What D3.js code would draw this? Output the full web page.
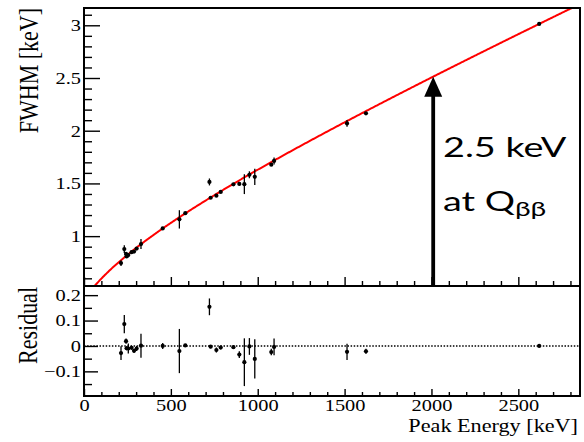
<!DOCTYPE html>
<html>
<head>
<meta charset="utf-8">
<script src="https://cdn.jsdelivr.net/npm/d3@7"></script>
<style>
  body { margin: 0; background: #fff; }
  svg { display: block; }
  .tick text { font-family: "Liberation Serif", "Times New Roman", serif; font-size: 17px; fill: #000; }
  .tick line { stroke: #000; stroke-width: 1.4; }
</style>
</head>
<body>
<div id="chart"></div>
<script>
// peak energies of the calibration lines [keV]
const energy = [213, 232, 242, 245, 255, 274, 288, 303, 328, 453, 549, 583, 722, 729,
  762, 787, 860, 894, 923, 952, 983, 1078, 1094, 1514, 1623, 2620];
// measured FWHM [keV]
const fwhm = [0.744, 0.877, 0.831, 0.807, 0.820, 0.848, 0.854, 0.882, 0.925, 1.073, 1.159,
  1.218, 1.514, 1.364, 1.384, 1.419, 1.491, 1.495, 1.493, 1.582, 1.563, 1.678, 1.713,
  2.069, 2.165, 3.013];
// FWHM uncertainty [keV]
const fwhmErr = [0.027, 0.036, 0.010, 0.008, 0.020, 0.008, 0.008, 0.010, 0.047, 0.012,
  0.087, 0.006, 0.033, 0.006, 0.010, 0.008, 0.006, 0.013, 0.094, 0.033, 0.077, 0.013,
  0.033, 0.032, 0.010, 0.005];
// data - fit [keV]
const residual = [-0.028, 0.086, 0.019, -0.009, -0.010, -0.007, -0.019, -0.010, 0.001,
  0.000, -0.020, 0.002, 0.154, -0.003, -0.016, -0.006, -0.005, -0.034, -0.064, -0.002,
  -0.051, -0.024, -0.004, -0.023, -0.021, 0.000];

// tick values
const xMajor = [0, 500, 1000, 1500, 2000, 2500];
const yMajor = [1, 1.5, 2, 2.5, 3];
const resMajor = [0.2, 0.1, 0, -0.1];

// fit: FWHM = sqrt(a + b E + c E^2)
const fitA = 0.157, fitB = 0.00194, fitC = 5.59e-7;
const fitFn = e => Math.sqrt(fitA + fitB * e + fitC * e * e);

// arrow position and label
const arrowE = 2010;
const labelLine1 = "2.5 keV";

const W = 584, H = 442;
const padL = 84, padR = 580, padT = 8, padMid = 286, padB = 396;
const sx = 1.2; // text in the picture is stretched sideways

const svg = d3.select('#chart').append('svg')
  .attr('width', W).attr('height', H);

const x = d3.scaleLinear().domain([0, 2855]).range([padL, padR]);
const y = d3.scaleLinear().domain([0.527, 3.164]).range([padMid, padT]);
const yr = d3.scaleLinear().domain([-0.197, 0.236]).range([padB, padMid]);

// stretch tick labels like the picture
function stretchLabels(g, xPos) {
  g.selectAll('text').each(function() {
    const t = d3.select(this);
    t.attr('x', xPos / sx).attr('transform', `scale(${sx},1)`);
  });
}

function minorRange(a, b, step) {
  return d3.range(Math.round(a / step), Math.round(b / step) + 1).map(k => +(k * step).toFixed(4));
}

// ---- main panel ticks
const gy = svg.append('g').attr('transform', `translate(${padL},0)`)
  .call(d3.axisLeft(y).tickValues(yMajor).tickSize(-16).tickPadding(3).tickFormat(d3.format('')));
gy.select('.domain').remove();
stretchLabels(gy, -3);
svg.append('g').attr('transform', `translate(${padL},0)`)
  .call(d3.axisLeft(y).tickValues(minorRange(0.6, 3.1, 0.1).filter(v => !yMajor.includes(v))).tickSize(-8).tickFormat(''))
  .select('.domain').remove();

svg.append('g').attr('transform', `translate(0,${padMid})`)
  .call(d3.axisBottom(x).tickValues(xMajor).tickSize(-9).tickFormat(''))
  .select('.domain').remove();
svg.append('g').attr('transform', `translate(0,${padMid})`)
  .call(d3.axisBottom(x).tickValues(minorRange(100, 2800, 100).filter(v => v % 500)).tickSize(-5).tickFormat(''))
  .select('.domain').remove();

// ---- residual panel ticks
const gr = svg.append('g').attr('transform', `translate(${padL},0)`)
  .call(d3.axisLeft(yr).tickValues(resMajor).tickSize(-14).tickPadding(3).tickFormat(d3.format('')));
gr.select('.domain').remove();
stretchLabels(gr, -3);
svg.append('g').attr('transform', `translate(${padL},0)`)
  .call(d3.axisLeft(yr).tickValues([0.15, 0.05, -0.05, -0.15]).tickSize(-8).tickFormat(''))
  .select('.domain').remove();

const gx = svg.append('g').attr('transform', `translate(0,${padB})`)
  .call(d3.axisBottom(x).tickValues(xMajor).tickSize(-7).tickPadding(3).tickFormat(d3.format('')));
gx.select('.domain').remove();
stretchLabels(gx, 0);
svg.append('g').attr('transform', `translate(0,${padB})`)
  .call(d3.axisBottom(x).tickValues(minorRange(100, 2800, 100).filter(v => v % 500)).tickSize(-4).tickFormat(''))
  .select('.domain').remove();

// clip for the fit curve
svg.append('clipPath').attr('id', 'mainClip')
  .append('rect').attr('x', padL).attr('y', padT).attr('width', padR - padL).attr('height', padMid - padT);

// fit curve
const curveE = d3.range(0, 2860, 5);
svg.append('path')
  .datum(curveE)
  .attr('clip-path', 'url(#mainClip)')
  .attr('fill', 'none')
  .attr('stroke', '#ff0000')
  .attr('stroke-width', 2)
  .attr('d', d3.line().x(d => x(d)).y(d => y(fitFn(d))));

// residual zero line
svg.append('line')
  .attr('x1', padL).attr('x2', padR)
  .attr('y1', yr(0)).attr('y2', yr(0))
  .attr('stroke', '#000').attr('stroke-width', 1.4)
  .attr('stroke-dasharray', '1.5,1.6');

// data points with error bars
const pts = energy.map((e, i) => ({ e, f: fwhm[i], err: fwhmErr[i], r: residual[i] }));

const mainPts = svg.append('g');
mainPts.selectAll('line.err').data(pts).enter().append('line')
  .attr('class', 'err')
  .attr('x1', d => x(d.e)).attr('x2', d => x(d.e))
  .attr('y1', d => y(d.f - d.err)).attr('y2', d => y(d.f + d.err))
  .attr('stroke', '#000').attr('stroke-width', 1.3);
mainPts.selectAll('circle').data(pts).enter().append('circle')
  .attr('cx', d => x(d.e)).attr('cy', d => y(d.f)).attr('r', 2.1).attr('fill', '#000');

const resPts = svg.append('g');
resPts.selectAll('line.err').data(pts).enter().append('line')
  .attr('class', 'err')
  .attr('x1', d => x(d.e)).attr('x2', d => x(d.e))
  .attr('y1', d => yr(d.r - d.err)).attr('y2', d => yr(d.r + d.err))
  .attr('stroke', '#000').attr('stroke-width', 1.3);
resPts.selectAll('circle').data(pts).enter().append('circle')
  .attr('cx', d => x(d.e)).attr('cy', d => yr(d.r)).attr('r', 2.1).attr('fill', '#000');

// arrow to the fit at Q_bb
const ax = x(arrowE), tipY = y(fitFn(arrowE));
svg.append('line')
  .attr('x1', ax).attr('x2', ax).attr('y1', tipY + 18).attr('y2', padMid)
  .attr('stroke', '#000').attr('stroke-width', 3.8);
svg.append('path')
  .attr('d', `M${ax},${tipY} L${ax - 9},${tipY + 20} L${ax + 9},${tipY + 20} Z`)
  .attr('fill', '#000');

// frames
[[padT, padMid], [padMid, padB]].forEach(([t, b]) => {
  svg.append('rect')
    .attr('x', padL).attr('y', t).attr('width', padR - padL).attr('height', b - t)
    .attr('fill', 'none').attr('stroke', '#000').attr('stroke-width', 2);
});

// titles
const serif = '"Liberation Serif", "Times New Roman", serif';
svg.append('text')
  .attr('transform', `translate(38,${padT}) scale(${sx},1) rotate(-90)`)
  .attr('text-anchor', 'end')
  .style('font-family', serif).style('font-size', '22px')
  .text('FWHM [keV]');
svg.append('text')
  .attr('transform', `translate(37,${padMid + 1}) scale(${sx},1) rotate(-90)`)
  .attr('text-anchor', 'end')
  .style('font-family', serif).style('font-size', '22px')
  .text('Residual');
svg.append('text')
  .attr('transform', `translate(578,432) scale(${sx},1)`)
  .attr('text-anchor', 'end')
  .style('font-family', serif).style('font-size', '18.5px')
  .text('Peak Energy [keV]');

// annotation
const sans = 'Lato, "Open Sans", sans-serif';
const sxA = 1.4;
svg.append('text')
  .attr('transform', `translate(443,157) scale(${sxA},1)`)
  .style('font-family', sans).style('font-size', '27px')
  .text(labelLine1);
const t2 = svg.append('text')
  .attr('transform', `translate(443,211) scale(${sxA},1)`)
  .style('font-family', sans).style('font-size', '27px');
t2.append('tspan').text('at Q');
t2.append('tspan').attr('dy', 5).style('font-size', '20px').text('ββ');
</script>
</body>
</html>
